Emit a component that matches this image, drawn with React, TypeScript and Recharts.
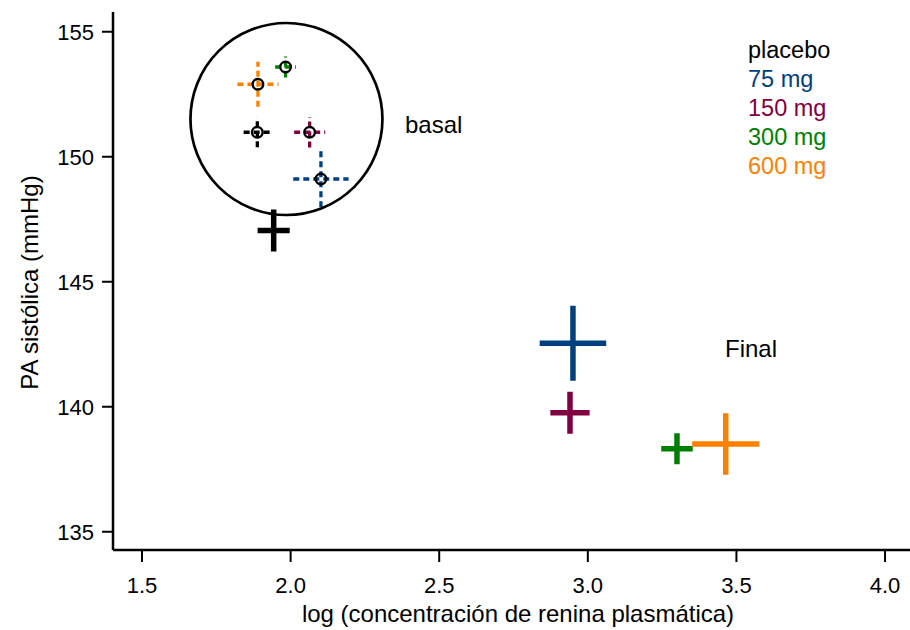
import React from 'react';
import { ScatterChart, Scatter, XAxis, YAxis, ErrorBar, ReferenceDot } from 'recharts';

const groups = ['placebo', '75 mg', '150 mg', '300 mg', '600 mg'];
const groupColors = ['#000000', '#004080', '#800040', '#008000', '#ff8000'];

const basalX = [1.888, 2.102, 2.064, 1.983, 1.89];
const basalY = [150.98, 149.11, 150.98, 153.59, 152.9];
const basalXErr = [0.046, 0.093, 0.052, 0.035, 0.069];
const basalYErr = [0.6, 1.13, 0.61, 0.42, 0.9];

const finalX = [1.943, 2.95, 2.94, 3.3, 3.464];
const finalY = [147.05, 142.54, 139.76, 138.32, 138.51];
const finalXErr = [0.054, 0.112, 0.066, 0.053, 0.113];
const finalYErr = [0.84, 1.5, 0.84, 0.62, 1.23];

const xTicks = [1.5, 2.0, 2.5, 3.0, 3.5, 4.0];
const yTicks = [135, 140, 145, 150, 155];
const xDomain = [1.4024, 4.084];
const yDomain = [134.27, 155.79];

const basalCircle = { x: 1.986, y: 151.51 };

const xTitle = 'log (concentración de renina plasmática)';
const yTitle = 'PA sistólica (mmHg)';

const FONT = '"Liberation Sans", Arial, Helvetica, sans-serif';

const basalData = groups.map((g, i) => [{ x: basalX[i], y: basalY[i], ex: basalXErr[i], ey: basalYErr[i] }]);
const finalData = groups.map((g, i) => [{ x: finalX[i], y: finalY[i], ex: finalXErr[i], ey: finalYErr[i] }]);

const BasalDot = (props: any) => (
  <circle cx={props.cx} cy={props.cy} r={5.3} fill="none" stroke="#000" strokeWidth={2.4} />
);
const NoDot = () => <g />;

export default function App() {
  return (
    <div style={{ position: 'absolute', left: 0, top: 0, width: 910, height: 630, background: '#fff', fontFamily: FONT }}>
      <ScatterChart width={910} height={630} margin={{ top: 12, right: 0, bottom: 0, left: 0 }}>
        <XAxis
          type="number"
          dataKey="x"
          domain={xDomain}
          allowDataOverflow
          ticks={xTicks}
          tickFormatter={(v: number) => v.toFixed(1)}
          height={80}
          axisLine={{ stroke: '#000', strokeWidth: 2.5 }}
          tickLine={{ stroke: '#000', strokeWidth: 2 }}
          tickSize={12}
          tickMargin={15}
          tick={{ fontSize: 22, fill: '#000', fontFamily: FONT }}
        />
        <XAxis
          xAxisId="top"
          orientation="top"
          type="number"
          domain={xDomain}
          allowDataOverflow
          height={0}
          tick={false}
          tickLine={false}
          axisLine={{ stroke: '#000', strokeWidth: 2.5 }}
        />
        <YAxis
          type="number"
          dataKey="y"
          domain={yDomain}
          allowDataOverflow
          ticks={yTicks}
          width={113}
          axisLine={{ stroke: '#000', strokeWidth: 2.5 }}
          tickLine={{ stroke: '#000', strokeWidth: 2 }}
          tickSize={11}
          tickMargin={8}
          tick={{ fontSize: 22, fill: '#000', fontFamily: FONT }}
        />
        <ReferenceDot
          x={basalCircle.x}
          y={basalCircle.y}
          r={96}
          fill="none"
          stroke="#000"
          strokeWidth={2.7}
          ifOverflow="visible"
        />
        {groups.map((g, i) => (
          <Scatter
            key={'b' + g}
            name={g + ' basal'}
            data={basalData[i]}
            shape={BasalDot}
            isAnimationActive={false}
          >
            <ErrorBar dataKey="ex" direction="x" width={0} stroke={groupColors[i]} strokeWidth={3.3} strokeDasharray="6 4" />
            <ErrorBar dataKey="ey" direction="y" width={0} stroke={groupColors[i]} strokeWidth={3.3} strokeDasharray="6 4" />
          </Scatter>
        ))}
        {groups.map((g, i) => (
          <Scatter
            key={'f' + g}
            name={g + ' final'}
            data={finalData[i]}
            shape={NoDot}
            isAnimationActive={false}
          >
            <ErrorBar dataKey="ex" direction="x" width={0} stroke={groupColors[i]} strokeWidth={5.5} />
            <ErrorBar dataKey="ey" direction="y" width={0} stroke={groupColors[i]} strokeWidth={5.5} />
          </Scatter>
        ))}
      </ScatterChart>
      <svg width={910} height={630} style={{ position: 'absolute', left: 0, top: 0, pointerEvents: 'none' }}>
        <g fontFamily={FONT} fontSize={24}>
          <text x={405} y={133} fill="#000">basal</text>
          <text x={725} y={357} fill="#000">Final</text>
          {groups.map((g, i) => (
            <text key={g} x={748} y={57.5 + i * 29} fontSize={23.5} fill={groupColors[i]}>{g}</text>
          ))}
          <text x={518} y={622} textAnchor="middle" fill="#000">{xTitle}</text>
          <text x={38} y={282.5} textAnchor="middle" fill="#000" transform="rotate(-90, 38, 282.5)">{yTitle}</text>
        </g>
      </svg>
    </div>
  );
}
